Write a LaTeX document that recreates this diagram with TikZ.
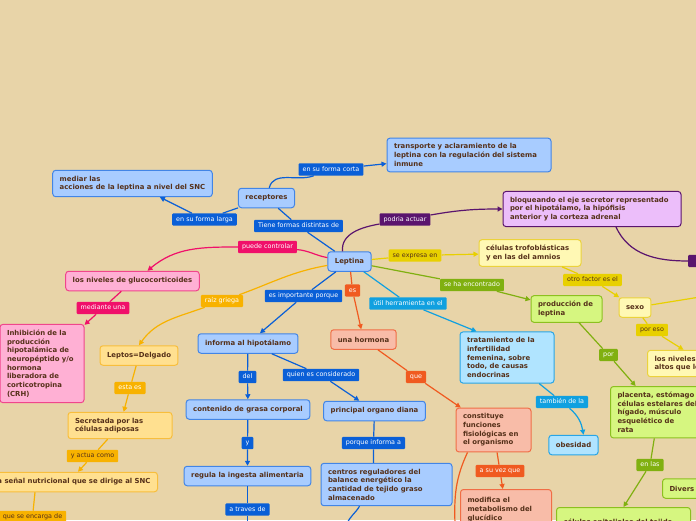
\documentclass[tikz,border=0pt]{standalone}
\usepackage{fontspec}
\setmainfont{DejaVu Sans}
\usepackage{tikz}
\usetikzlibrary{positioning,arrows.meta}
\definecolor{bgsand}{RGB}{232,212,168}
\definecolor{txtbrown}{RGB}{85,48,25}
\definecolor{bluefill}{RGB}{168,204,255}
\definecolor{blueline}{RGB}{66,133,230}
\definecolor{bluetag}{RGB}{10,95,215}
\definecolor{purplefill}{RGB}{236,190,250}
\definecolor{purpletag}{RGB}{90,20,110}
\definecolor{yellowfill}{RGB}{255,248,180}
\definecolor{yellowline}{RGB}{235,210,60}
\definecolor{yellowtag}{RGB}{232,208,0}
\definecolor{greenfill}{RGB}{214,246,128}
\definecolor{greenline}{RGB}{140,192,32}
\definecolor{greentag}{RGB}{128,176,16}
\definecolor{cyanfill}{RGB}{176,228,255}
\definecolor{cyanline}{RGB}{40,165,230}
\definecolor{cyantag}{RGB}{16,160,224}
\definecolor{salmonfill}{RGB}{248,188,168}
\definecolor{salmonline}{RGB}{240,110,70}
\definecolor{orangetag}{RGB}{240,90,32}
\definecolor{pinkfill}{RGB}{255,176,212}
\definecolor{pinkline}{RGB}{240,70,140}
\definecolor{pinktag}{RGB}{240,16,106}
\definecolor{amberfill}{RGB}{255,224,144}
\definecolor{amberline}{RGB}{248,190,60}
\definecolor{ambertag}{RGB}{248,178,0}
\newcommand{\boxfnt}{\fontsize{6.9}{8.7}\selectfont\bfseries}
\newcommand{\tagfnt}{\fontsize{6.4}{7.5}\selectfont}
\tikzset{
  box/.style   = {draw, rounded corners=3pt, align=left, font=\boxfnt, text=txtbrown, line width=1pt, inner xsep=7pt, inner ysep=5.5pt, minimum height=19.5pt},
  bbox/.style  = {box, fill=bluefill, draw=blueline},
  pbox/.style  = {box, fill=purplefill, draw=purpletag},
  ybox/.style  = {box, fill=yellowfill, draw=yellowline},
  gbox/.style  = {box, fill=greenfill, draw=greenline},
  cbox/.style  = {box, fill=cyanfill, draw=cyanline},
  obox/.style  = {box, fill=salmonfill, draw=salmonline},
  kbox/.style  = {box, fill=pinkfill, draw=pinkline},
  abox/.style  = {box, fill=amberfill, draw=amberline},
  tag/.style   = {rounded corners=1pt, font=\tagfnt, text=white, inner xsep=4pt, inner ysep=3pt, text height=4.8pt, text depth=1.4pt},
  btag/.style  = {tag, fill=bluetag},
  ptag/.style  = {tag, fill=purpletag},
  ytag/.style  = {tag, fill=yellowtag, text=txtbrown},
  gtag/.style  = {tag, fill=greentag},
  ctag/.style  = {tag, fill=cyantag},
  otag/.style  = {tag, fill=orangetag},
  ktag/.style  = {tag, fill=pinktag},
  atag/.style  = {tag, fill=ambertag},
  line/.style  = {line width=1.2pt},
  flow/.style  = {line, -{Triangle[length=5pt,width=5pt]}},
  bline/.style = {line, draw=bluetag}, bflow/.style = {flow, draw=bluetag},
  pline/.style = {line, draw=purpletag}, pflow/.style = {flow, draw=purpletag},
  yline/.style = {line, draw=yellowtag}, yflow/.style = {flow, draw=yellowtag},
  gflow/.style = {flow, draw=greentag},
  cflow/.style = {flow, draw=cyantag},
  oline/.style = {line, draw=orangetag}, oflow/.style = {flow, draw=orangetag},
  kflow/.style = {flow, draw=pinktag},
  aline/.style = {line, draw=ambertag}, aflow/.style = {flow, draw=ambertag},
}
\begin{document}
\begin{tikzpicture}[x=1pt,y=-1pt]
  \clip (0,0) rectangle (696,520);
  \fill[bgsand] (0,0) rectangle (696,520);
  % concepts
  \node[bbox] (lep) at (349.5,261.5) {Leptina};
  \node[bbox] (rec) at (266.5,198) {receptores};
  \node[bbox] (med) at (132.5,183.5) {mediar las\\acciones de la leptina a nivel del SNC};
  \node[bbox, text width=150pt] (trans) at (469,155) {transporte y aclaramiento de la\\leptina con la regulación del sistema\\inmune};
  \node[pbox, text width=164pt] (bloq) at (592,209) {bloqueando el eje secretor representado\\por el hipotálamo, la hipófisis\\anterior y la corteza adrenal};
  \node[ybox, text width=88pt] (trofo) at (530,253) {células trofoblásticas\\y en las del amnios};
  \node[gbox, text width=57pt] (prod) at (566.5,309) {producción de\\leptina};
  \node[ybox] (sexo) at (635,307.5) {sexo};
  \node[ybox, text width=58pt, anchor=west] (niv) at (647,363.5) {los niveles\\altos que los};
  \node[gbox, text width=82pt, anchor=north west] (plac) at (610,386) {placenta, estómago\\células estelares del\\hígado, músculo\\esquelético de\\rata};
  \node[gbox, text width=60pt, anchor=west] (div) at (662,488.5) {Divers};
  \node[gbox, text width=120pt, inner ysep=4.5pt, minimum height=30pt, anchor=north west] (epit) at (556,507) {células epiteliales del tejido};
  \node[cbox] (obes) at (573.5,445) {obesidad};
  \node[cbox, text width=80pt] (trat) at (507,357.5) {tratamiento de la\\infertilidad\\femenina, sobre\\todo, de causas\\endocrinas};
  \node[obox] (horm) at (363.5,339.5) {una hormona};
  \node[obox, text width=61pt] (const) at (493.5,430) {constituye\\funciones\\fisiológicas en\\el organismo};
  \node[obox, text width=77pt, inner ysep=4.5pt, minimum height=40pt, anchor=north west] (modif) at (460,489) {modifica el\\metabolismo del\\glucídico};
  \node[bbox] (info) at (248,343.5) {informa al hipotálamo};
  \node[bbox] (cont) at (248,409.5) {contenido de grasa corporal};
  \node[bbox] (reg) at (247.5,476) {regula la ingesta alimentaria};
  \node[bbox] (diana) at (374.5,411) {principal organo diana};
  \node[bbox, text width=117pt] (centr) at (386.5,484.5) {centros reguladores del\\balance energético la\\cantidad de tejido graso\\almacenado};
  \node[kbox] (gluco) at (132.5,281) {los niveles de glucocorticoides};
  \node[kbox, text width=70pt] (inhib) at (42,363.5) {Inhibición de la\\producción\\hipotalámica de\\neuropéptido y/o\\hormona\\liberadora de\\corticotropina\\(CRH)};
  \node[abox] (leptos) at (139,355.5) {Leptos=Delgado};
  \node[abox, text width=90pt] (secr) at (120,425.5) {Secretada por las\\células adiposas};
  \node[abox, anchor=east] (senal) at (158,482) {la señal nutricional que se dirige al SNC};
  % link labels
  \node[btag] (lcorta) at (331,169.5) {en su forma corta};
  \node[btag] (llarga) at (204.5,219.5) {en su forma larga};
  \node[btag] (ltiene) at (298.5,226) {Tiene formas distintas de};
  \node[ptag] (lpodria) at (405,219.5) {podria actuar};
  \node[ptag, anchor=west, minimum width=20pt] (la) at (688,261) {a};
  \node[ktag] (lpuede) at (267.5,247) {puede controlar};
  \node[ytag] (lexpresa) at (415,255.5) {se expresa en};
  \node[gtag] (lencontrado) at (472,285) {se ha encontrado};
  \node[ytag] (lotro) at (592.5,280) {otro factor es el};
  \node[ytag] (lporeso) at (652,330) {por eso};
  \node[gtag] (lpor) at (608.5,355) {por};
  \node[gtag] (lenlas) at (650,465) {en las};
  \node[ctag] (ltambien) at (562,402) {también de la};
  \node[ctag] (lutil) at (408,303.5) {útil herramienta en el};
  \node[otag] (les) at (352.5,290.5) {es};
  \node[otag] (lque) at (416,377) {que};
  \node[otag] (lasuvez) at (500,471) {a su vez que};
  \node[btag] (limp) at (303.5,296) {es importante porque};
  \node[btag] (lquien) at (321,375) {quien es considerado};
  \node[btag] (ldel) at (247.5,377) {del};
  \node[btag] (ly) at (247.5,443) {y};
  \node[btag] (ltraves) at (247.5,509.5) {a traves de};
  \node[btag] (lporque) at (373.5,443) {porque informa a};
  \node[atag] (lraiz) at (222,301) {raíz griega};
  \node[ktag] (lmediante) at (103,308) {mediante una};
  \node[atag] (lestaes) at (130,388) {esta es};
  \node[atag, text=txtbrown] (lactua) at (92.5,456) {y actua como};
  \node[atag, text=txtbrown] (lencarga) at (32.5,517) {que se encarga de};
  % loose ends leaving the frame
  \coordinate (sexoend) at (700,297);
  \coordinate (travesend) at (247.5,524);
  \coordinate (centrend) at (347,524);
  \coordinate (constend) at (455,524);
  % blue branch
  \draw[bline] (lep) -- (ltiene) -- (rec);
  \draw[bflow] (rec) to[out=75,in=200] (lcorta) -- (trans);
  \draw[bflow] (rec) -- (llarga) -- (med);
  \draw[bflow] (lep) -- (limp) -- (info);
  \draw[bflow] (info) -- (ldel) -- (cont);
  \draw[bflow] (info) -- (lquien) -- (diana);
  \draw[bflow] (cont) -- (ly) -- (reg);
  \draw[bline] (reg) -- (ltraves) -- (travesend);
  \draw[bline] (diana) -- (lporque) -- (lporque |- centr.north);
  \draw[bline] ([xshift=-27pt]centr.south) to[out=-120,in=70] (centrend);
  % purple branch
  \draw[pflow] ([xshift=-7pt]lep.north) to[out=95,in=190] (lpodria) to[out=10,in=180] (bloq);
  \draw[pline] ([xshift=24pt]bloq.south) to[out=-65,in=180] (la);
  % yellow branch
  \draw[yflow] (lep) -- (lexpresa) -- (trofo);
  \draw[yflow] (trofo) -- (lotro) -- (sexo);
  \draw[yline] (sexo) -- (sexoend);
  \draw[yflow] (sexo) -- (lporeso) -- (niv.north);
  % green branch
  \draw[gflow] (lep) -- (lencontrado) -- (prod);
  \draw[gflow] (prod) -- (lpor) -- (plac);
  \draw[gflow] (plac) -- (lenlas) -- (epit.north);
  % cyan branch
  \draw[cflow] (lep) -- (lutil) -- ([xshift=17pt]trat.north west);
  \draw[cflow] (trat) -- (ltambien) to[out=-40,in=100] ([xshift=10pt]obes.north);
  % orange branch
  \draw[oflow] (lep) -- (les) -- (horm);
  \draw[oflow] (horm) -- (lque) -- (const);
  \draw[oflow] (const) -- (lasuvez) -- (modif);
  \draw[oline] ([xshift=-26pt]const.south) to[out=-115,in=92] (constend);
  % pink branch
  \draw[kflow] (lep) to[out=170,in=-5] (lpuede) to[out=180,in=40] ([xshift=15pt]gluco.north);
  \draw[kflow] (gluco) -- (lmediante) -- (inhib);
  % amber branch
  \draw[aflow] (lep) to[out=190,in=20] (lraiz) to[out=200,in=55] (leptos.north);
  \draw[aflow] (leptos) -- (lestaes) -- (secr);
  \draw[aflow] (secr) -- (lactua) -- ([xshift=-80pt]senal.north east);
  \draw[aline] ([xshift=-123pt]senal.south east) -- (lencarga);
\end{tikzpicture}
\end{document}
